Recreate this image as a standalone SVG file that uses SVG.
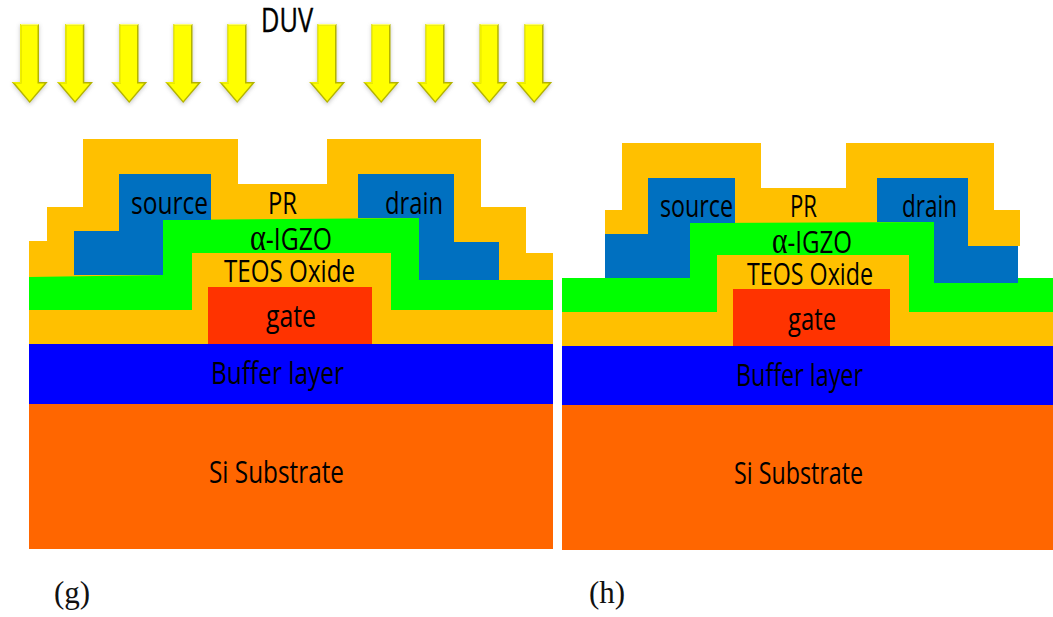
<svg xmlns="http://www.w3.org/2000/svg" width="1053" height="617" viewBox="0 0 1053 617">
<style>
.pr{fill:#FFC000}.ig{fill:#00FF00}.sd{fill:#0070C0}.gt{fill:#FF3300}.bf{fill:#0000FF}.si{fill:#FF6600}
text{font-family:"Open Sans","Noto Sans","Liberation Sans",sans-serif;font-size:31px;fill:#000}
.a{font-family:"Liberation Serif",serif;font-size:38px}
.duv{font-size:32px;stroke:#000;stroke-width:.4px}
.cap{font-family:"Liberation Serif","Times New Roman",serif;font-size:31px;fill:#111}
</style>
<defs>
<filter id="blur" x="-30%" y="-30%" width="160%" height="160%"><feGaussianBlur stdDeviation="2"/></filter>
<g id="arrow">
<polygon points="20,25 39,25 39,83 47.5,83 29.7,105 12,83 20,83" fill="#777" opacity=".4" filter="url(#blur)"/>
<polygon points="20,24 39,24 39,82 47.7,82 29.7,103 11.7,82 20,82" fill="#B4B400"/>
<polygon points="20,24 39,24 37.500,25.500 21.500,25.500" fill="#FFFF66"/>
<polygon points="20,24 21.500,25.500 21.500,83.500 15,83.500 11.7,82 20,82" fill="#F0F000"/>
<polygon points="21.500,25.500 37.500,25.500 37.500,83.500 44.500,83.500 29.700,101 15,83.500 21.500,83.500" fill="#FFFF00"/>
</g>
</defs>
<rect width="1053" height="617" fill="#fff"/>
<g id="connectors"/>
<g id="duv-arrows">
<use href="#arrow"/>
<use href="#arrow" x="45.300"/>
<use href="#arrow" x="99.500"/>
<use href="#arrow" x="153.500"/>
<use href="#arrow" x="207.500"/>
<use href="#arrow" x="297.500"/>
<use href="#arrow" x="351.500"/>
<use href="#arrow" x="405.500"/>
<use href="#arrow" x="459.700"/>
<use href="#arrow" x="504.500"/>
<text class="duv" x="261" y="32" textLength="52" lengthAdjust="spacingAndGlyphs">DUV</text>
</g>
<g id="panel-g">
<g id="g-substrate"><rect class="si" x="29" y="404" width="524" height="145"/><text x="209" y="483" textLength="135" lengthAdjust="spacingAndGlyphs">Si Substrate</text></g>
<g id="g-buffer"><rect class="bf" x="29" y="344" width="524" height="60"/><text x="211" y="384" textLength="133" lengthAdjust="spacingAndGlyphs">Buffer layer</text></g>
<g id="g-pr"><polygon class="pr" points="83,139 238,139 238,184 327,184 327,139 481,139 481,207 526,207 526,253 553,253 553,282 29,282 29,241 47,241 47,207 83,207"/><text x="268" y="214" textLength="29" lengthAdjust="spacingAndGlyphs">PR</text></g>
<g id="g-teos"><polygon class="pr" points="192,253 391,253 391,310 553,310 553,344 29,344 29,310 192,310"/><text x="224" y="282" textLength="131" lengthAdjust="spacingAndGlyphs">TEOS Oxide</text></g>
<g id="g-igzo"><polygon class="ig" points="163,220 419,218 419,280 553,280 553,310 391,310 391,253 192,253 192,310 29,310 29,277 163,275"/><text x="250" y="250" textLength="82" lengthAdjust="spacingAndGlyphs"><tspan class="a">α</tspan>-IGZO</text></g>
<g id="g-source"><polygon class="sd" points="119,174 211,174 211,220 163,220 163,275 74,275 74,231 119,231"/><text x="131" y="214" textLength="77" lengthAdjust="spacingAndGlyphs">source</text></g>
<g id="g-drain"><polygon class="sd" points="358,174 454,174 454,242 499,242 499,280 419,280 419,218 358,218"/><text x="385" y="214" textLength="58" lengthAdjust="spacingAndGlyphs">drain</text></g>
<g id="g-gate"><rect class="gt" x="208" y="287" width="164" height="57"/><text x="266" y="327" textLength="50" lengthAdjust="spacingAndGlyphs">gate</text></g>
<text class="cap" x="54" y="603">(g)</text>
</g>
<g id="panel-h">
<g id="h-substrate"><rect class="si" x="562" y="405" width="491" height="145"/><text x="734" y="484" textLength="129" lengthAdjust="spacingAndGlyphs">Si Substrate</text></g>
<g id="h-buffer"><rect class="bf" x="562" y="346" width="491" height="59"/><text x="736" y="386" textLength="127" lengthAdjust="spacingAndGlyphs">Buffer layer</text></g>
<g id="h-pr"><polygon class="pr" points="622,143 761,143 761,188 846,188 846,143 994,143 994,210 1020,210 1020,246 1000,246 1000,280 605,280 605,210 622,210"/><text x="790" y="217" textLength="27" lengthAdjust="spacingAndGlyphs">PR</text></g>
<g id="h-teos"><polygon class="pr" points="717,255 909,255 909,312 1053,312 1053,346 562,346 562,312 717,312"/><text x="747" y="285" textLength="126" lengthAdjust="spacingAndGlyphs">TEOS Oxide</text></g>
<g id="h-igzo"><polygon class="ig" points="690,223 934,222 934,278 1053,278 1053,312 909,312 909,255 717,255 717,312 562,312 562,278 690,278"/><text x="772" y="253" textLength="80" lengthAdjust="spacingAndGlyphs"><tspan class="a">α</tspan>-IGZO</text></g>
<g id="h-source"><polygon class="sd" points="648,178 735,178 735,223 690,223 690,278 605,278 605,234 648,234"/><text x="660" y="217" textLength="73" lengthAdjust="spacingAndGlyphs">source</text></g>
<g id="h-drain"><polygon class="sd" points="877,178 968,178 968,246 1018,246 1018,283 934,283 934,222 877,222"/><text x="902" y="217" textLength="55" lengthAdjust="spacingAndGlyphs">drain</text></g>
<g id="h-gate"><rect class="gt" x="733" y="289" width="157" height="57"/><text x="788" y="330" textLength="48" lengthAdjust="spacingAndGlyphs">gate</text></g>
<text class="cap" x="589" y="603">(h)</text>
</g>
</svg>
